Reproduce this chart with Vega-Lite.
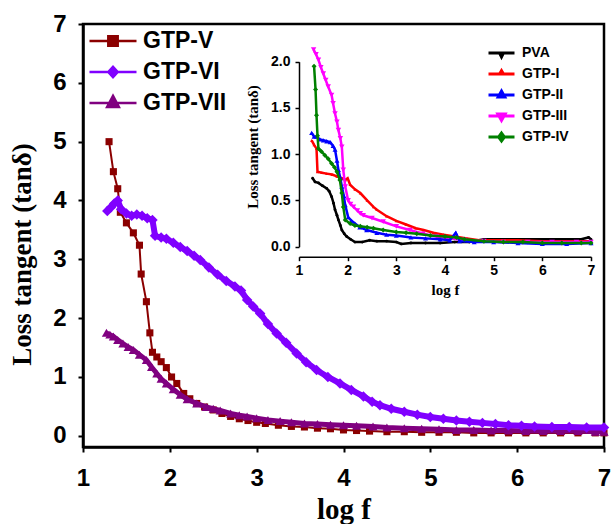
{
"$schema":"https://vega.github.io/schema/vega-lite/v6.json",
"width":521,"height":423,
"autosize":{"type":"none"},
"padding":{"left":83,"top":24,"right":12,"bottom":77},
"background":"white",
"config":{"view":{"stroke":"black","strokeWidth":2.5},"axis":{"grid":false,"domainColor":"black","tickColor":"black","labelColor":"black","titleColor":"black"},"legend":{"padding":0}},
"datasets":{
"v5":[{"x":1.30,"y":5.00},{"x":1.35,"y":4.49},{"x":1.40,"y":4.20},{"x":1.43,"y":3.80},{"x":1.50,"y":3.62},{"x":1.58,"y":3.45},{"x":1.65,"y":3.24},{"x":1.67,"y":2.75},{"x":1.73,"y":2.28},{"x":1.77,"y":1.75},{"x":1.80,"y":1.42},{"x":1.85,"y":1.34},{"x":1.90,"y":1.26},{"x":1.96,"y":1.16},{"x":2.02,"y":1.00},{"x":2.08,"y":0.89},{"x":2.16,"y":0.72},{"x":2.23,"y":0.63},{"x":2.31,"y":0.55},{"x":2.40,"y":0.49},{"x":2.50,"y":0.44},{"x":2.60,"y":0.38},{"x":2.70,"y":0.33},{"x":2.80,"y":0.29},{"x":2.90,"y":0.26},{"x":3.00,"y":0.23},{"x":3.10,"y":0.21},{"x":3.25,"y":0.18},{"x":3.40,"y":0.16},{"x":3.55,"y":0.15},{"x":3.70,"y":0.13},{"x":3.85,"y":0.12},{"x":4.00,"y":0.10},{"x":4.15,"y":0.09},{"x":4.30,"y":0.08},{"x":4.50,"y":0.07},{"x":4.70,"y":0.07},{"x":4.90,"y":0.06},{"x":5.10,"y":0.06},{"x":5.30,"y":0.06},{"x":5.50,"y":0.05},{"x":5.70,"y":0.05},{"x":5.90,"y":0.05},{"x":6.10,"y":0.05},{"x":6.30,"y":0.05},{"x":6.50,"y":0.05},{"x":6.70,"y":0.05},{"x":6.90,"y":0.05},{"x":7.00,"y":0.05}],
"v6":[{"x":1.28,"y":3.82},{"x":1.32,"y":3.88},{"x":1.36,"y":3.95},{"x":1.40,"y":4.00},{"x":1.44,"y":3.85},{"x":1.50,"y":3.78},{"x":1.56,"y":3.74},{"x":1.62,"y":3.76},{"x":1.68,"y":3.74},{"x":1.74,"y":3.70},{"x":1.80,"y":3.67},{"x":1.83,"y":3.40},{"x":1.90,"y":3.37},{"x":1.96,"y":3.35},{"x":2.04,"y":3.28},{"x":2.12,"y":3.21},{"x":2.20,"y":3.14},{"x":2.28,"y":3.06},{"x":2.35,"y":2.99},{"x":2.45,"y":2.86},{"x":2.55,"y":2.74},{"x":2.65,"y":2.63},{"x":2.75,"y":2.54},{"x":2.82,"y":2.47},{"x":2.89,"y":2.31},{"x":2.96,"y":2.20},{"x":3.04,"y":2.08},{"x":3.13,"y":1.90},{"x":3.23,"y":1.74},{"x":3.34,"y":1.58},{"x":3.46,"y":1.40},{"x":3.57,"y":1.25},{"x":3.69,"y":1.12},{"x":3.82,"y":1.00},{"x":3.96,"y":0.89},{"x":4.09,"y":0.78},{"x":4.23,"y":0.67},{"x":4.33,"y":0.58},{"x":4.42,"y":0.52},{"x":4.55,"y":0.46},{"x":4.70,"y":0.41},{"x":4.85,"y":0.36},{"x":5.00,"y":0.32},{"x":5.15,"y":0.29},{"x":5.30,"y":0.26},{"x":5.45,"y":0.24},{"x":5.60,"y":0.22},{"x":5.75,"y":0.20},{"x":5.90,"y":0.18},{"x":6.05,"y":0.17},{"x":6.20,"y":0.16},{"x":6.40,"y":0.15},{"x":6.60,"y":0.15},{"x":6.80,"y":0.14},{"x":7.00,"y":0.14}],
"v7":[{"x":1.27,"y":1.75},{"x":1.31,"y":1.72},{"x":1.35,"y":1.69},{"x":1.40,"y":1.63},{"x":1.46,"y":1.57},{"x":1.52,"y":1.51},{"x":1.58,"y":1.46},{"x":1.65,"y":1.38},{"x":1.73,"y":1.29},{"x":1.79,"y":1.17},{"x":1.85,"y":1.06},{"x":1.90,"y":0.97},{"x":1.96,"y":0.89},{"x":2.04,"y":0.79},{"x":2.12,"y":0.70},{"x":2.20,"y":0.62},{"x":2.31,"y":0.55},{"x":2.42,"y":0.49},{"x":2.50,"y":0.46},{"x":2.58,"y":0.43},{"x":2.70,"y":0.38},{"x":2.80,"y":0.35},{"x":2.89,"y":0.33},{"x":3.00,"y":0.30},{"x":3.13,"y":0.27},{"x":3.27,"y":0.25},{"x":3.40,"y":0.23},{"x":3.55,"y":0.21},{"x":3.70,"y":0.20},{"x":3.85,"y":0.19},{"x":4.00,"y":0.18},{"x":4.15,"y":0.17},{"x":4.34,"y":0.16},{"x":4.50,"y":0.14},{"x":4.70,"y":0.13},{"x":4.90,"y":0.12},{"x":5.10,"y":0.11},{"x":5.30,"y":0.10},{"x":5.50,"y":0.10},{"x":5.70,"y":0.09},{"x":5.90,"y":0.09},{"x":6.10,"y":0.08},{"x":6.30,"y":0.08},{"x":6.50,"y":0.08},{"x":6.70,"y":0.08},{"x":6.90,"y":0.07},{"x":7.00,"y":0.07}],
"pva":[{"x":1.28,"y":0.74},{"x":1.33,"y":0.70},{"x":1.40,"y":0.69},{"x":1.48,"y":0.66},{"x":1.57,"y":0.63},{"x":1.62,"y":0.60},{"x":1.67,"y":0.54},{"x":1.71,"y":0.47},{"x":1.74,"y":0.40},{"x":1.78,"y":0.34},{"x":1.81,"y":0.29},{"x":1.85,"y":0.23},{"x":1.88,"y":0.18},{"x":1.93,"y":0.14},{"x":1.98,"y":0.11},{"x":2.06,"y":0.08},{"x":2.15,"y":0.05},{"x":2.30,"y":0.05},{"x":2.45,"y":0.07},{"x":2.60,"y":0.06},{"x":2.80,"y":0.06},{"x":3.00,"y":0.05},{"x":3.10,"y":0.03},{"x":3.30,"y":0.04},{"x":3.60,"y":0.04},{"x":3.90,"y":0.04},{"x":4.20,"y":0.05},{"x":4.50,"y":0.05},{"x":4.80,"y":0.08},{"x":5.20,"y":0.08},{"x":5.60,"y":0.08},{"x":6.00,"y":0.08},{"x":6.40,"y":0.08},{"x":6.80,"y":0.08},{"x":6.95,"y":0.10},{"x":7.00,"y":0.08}],
"g1":[{"x":1.26,"y":1.15},{"x":1.31,"y":1.10},{"x":1.36,"y":1.06},{"x":1.38,"y":0.81},{"x":1.47,"y":0.80},{"x":1.57,"y":0.79},{"x":1.68,"y":0.78},{"x":1.78,"y":0.76},{"x":1.88,"y":0.74},{"x":1.95,"y":0.72},{"x":2.00,"y":0.74},{"x":2.05,"y":0.67},{"x":2.15,"y":0.62},{"x":2.26,"y":0.58},{"x":2.40,"y":0.50},{"x":2.53,"y":0.43},{"x":2.60,"y":0.40},{"x":2.80,"y":0.33},{"x":3.00,"y":0.28},{"x":3.20,"y":0.24},{"x":3.40,"y":0.20},{"x":3.56,"y":0.18},{"x":3.76,"y":0.15},{"x":3.97,"y":0.13},{"x":4.20,"y":0.11},{"x":4.45,"y":0.09},{"x":4.70,"y":0.07},{"x":5.00,"y":0.07},{"x":5.50,"y":0.07},{"x":6.00,"y":0.06},{"x":6.50,"y":0.06},{"x":7.00,"y":0.06}],
"g2":[{"x":1.26,"y":1.23},{"x":1.31,"y":1.19},{"x":1.36,"y":1.19},{"x":1.43,"y":1.16},{"x":1.50,"y":1.15},{"x":1.57,"y":1.14},{"x":1.64,"y":1.13},{"x":1.70,"y":1.09},{"x":1.74,"y":1.05},{"x":1.78,"y":0.93},{"x":1.81,"y":0.83},{"x":1.85,"y":0.74},{"x":1.88,"y":0.65},{"x":1.92,"y":0.55},{"x":1.95,"y":0.45},{"x":2.01,"y":0.32},{"x":2.08,"y":0.28},{"x":2.15,"y":0.25},{"x":2.25,"y":0.21},{"x":2.39,"y":0.18},{"x":2.60,"y":0.15},{"x":2.80,"y":0.13},{"x":3.00,"y":0.12},{"x":3.30,"y":0.10},{"x":3.60,"y":0.09},{"x":3.90,"y":0.08},{"x":4.10,"y":0.07},{"x":4.22,"y":0.15},{"x":4.30,"y":0.06},{"x":4.60,"y":0.05},{"x":5.00,"y":0.05},{"x":5.50,"y":0.04},{"x":6.00,"y":0.03},{"x":6.50,"y":0.03},{"x":7.00,"y":0.04}],
"g3":[{"x":1.30,"y":2.13},{"x":1.35,"y":2.08},{"x":1.40,"y":2.02},{"x":1.45,"y":1.94},{"x":1.50,"y":1.87},{"x":1.55,"y":1.80},{"x":1.60,"y":1.73},{"x":1.67,"y":1.64},{"x":1.70,"y":1.55},{"x":1.74,"y":1.44},{"x":1.78,"y":1.35},{"x":1.81,"y":1.26},{"x":1.85,"y":1.17},{"x":1.88,"y":1.08},{"x":1.91,"y":0.83},{"x":1.95,"y":0.65},{"x":2.01,"y":0.50},{"x":2.06,"y":0.46},{"x":2.12,"y":0.43},{"x":2.20,"y":0.39},{"x":2.26,"y":0.36},{"x":2.32,"y":0.34},{"x":2.50,"y":0.31},{"x":2.73,"y":0.27},{"x":3.00,"y":0.22},{"x":3.28,"y":0.18},{"x":3.55,"y":0.14},{"x":3.83,"y":0.11},{"x":4.10,"y":0.09},{"x":4.40,"y":0.07},{"x":4.80,"y":0.06},{"x":5.20,"y":0.05},{"x":5.70,"y":0.05},{"x":6.20,"y":0.05},{"x":6.70,"y":0.05},{"x":7.00,"y":0.05}],
"g4":[{"x":1.31,"y":1.95},{"x":1.34,"y":1.70},{"x":1.36,"y":1.42},{"x":1.38,"y":1.20},{"x":1.40,"y":1.06},{"x":1.46,"y":1.03},{"x":1.53,"y":0.99},{"x":1.60,"y":0.95},{"x":1.67,"y":0.90},{"x":1.73,"y":0.86},{"x":1.78,"y":0.81},{"x":1.84,"y":0.72},{"x":1.88,"y":0.58},{"x":1.91,"y":0.43},{"x":1.95,"y":0.29},{"x":2.05,"y":0.25},{"x":2.15,"y":0.23},{"x":2.26,"y":0.22},{"x":2.40,"y":0.21},{"x":2.53,"y":0.20},{"x":2.73,"y":0.18},{"x":3.00,"y":0.16},{"x":3.20,"y":0.15},{"x":3.42,"y":0.14},{"x":3.70,"y":0.12},{"x":4.00,"y":0.11},{"x":4.24,"y":0.10},{"x":4.40,"y":0.08},{"x":4.80,"y":0.06},{"x":5.20,"y":0.05},{"x":5.60,"y":0.05},{"x":6.00,"y":0.04},{"x":6.40,"y":0.04},{"x":6.80,"y":0.04},{"x":7.00,"y":0.04}]
},
"layer":[
{
"encoding":{
"x":{"field":"x","type":"quantitative","scale":{"domain":[1,7],"nice":false,"zero":false},
"axis":{"values":[1,2,3,4,5,6,7],"title":"log f","labelFont":"Liberation Sans","labelFontWeight":"bold","labelFontSize":24,"labelPadding":14,"labelFlush":false,"tickSize":5,"tickWidth":2,"domainWidth":2.5,"titleFont":"Liberation Serif","titleFontSize":29,"titleFontWeight":"bold","titleBaseline":"alphabetic","titleY":71}},
"y":{"field":"y","type":"quantitative","scale":{"domain":[-0.19,7],"nice":false,"zero":false},
"axis":{"values":[0,1,2,3,4,5,6,7],"title":"Loss tangent (tanδ)","labelFont":"Liberation Sans","labelFontWeight":"bold","labelFontSize":24,"labelPadding":12,"labelFlush":false,"tickSize":5,"tickWidth":2,"domainWidth":2.5,"titleFont":"Liberation Serif","titleFontSize":27,"titleFontWeight":"bold","titleBaseline":"alphabetic","titleX":-53,"titleY":230}}
},
"layer":[
{"data":{"name":"v5"},"mark":{"type":"line","strokeWidth":2,"point":{"shape":"square","size":50,"filled":true}},
"encoding":{"color":{"datum":"GTP-V","type":"nominal","scale":{"domain":["GTP-V","GTP-VI","GTP-VII"],"range":["#8b0000","#8000ff","#800080"]},
"legend":{"title":null,"orient":"none","legendX":5,"legendY":5,"symbolSize":2209,"clipHeight":24,"rowPadding":7,"labelOffset":5,"labelFont":"Liberation Sans","labelFontWeight":"bold","labelFontSize":23,"labelColor":"black",
"encode":{"symbols":{"update":{"shape":{"signal":"datum.value==='GTP-V'?'M-1,0H1M-0.2,-0.2H0.2V0.2H-0.2Z':datum.value==='GTP-VI'?'M-1,0H1M0,-0.22L0.2,0L0,0.22L-0.2,0Z':'M-1,0H1M0,-0.3L0.25,0.17H-0.25Z'"},
"fill":{"signal":"datum.value==='GTP-V'?'#8b0000':datum.value==='GTP-VI'?'#8000ff':'#800080'"},
"stroke":{"signal":"datum.value==='GTP-V'?'#8b0000':datum.value==='GTP-VI'?'#8000ff':'#800080'"},
"strokeWidth":{"value":2.5},"opacity":{"value":1}}}}}}}},
{"data":{"name":"v7"},"mark":{"type":"line","strokeWidth":5,"point":{"shape":"triangle-up","size":85,"filled":true}},
"encoding":{"color":{"datum":"GTP-VII","type":"nominal"}}},
{"data":{"name":"v6"},"mark":{"type":"line","strokeWidth":6,"point":{"shape":"diamond","size":110,"filled":true}},
"encoding":{"color":{"datum":"GTP-VI","type":"nominal"}}}
]
},
{
"encoding":{
"x":{"field":"x","type":"quantitative","scale":{"domain":[1,7],"range":[216,508],"nice":false,"zero":false},
"axis":{"orient":"bottom","offset":-190.3,"values":[1,2,3,4,5,6,7],"title":"log f","labelFont":"Liberation Sans","labelFontWeight":"bold","labelFontSize":14,"labelPadding":3,"labelFlush":false,"tickSize":4,"tickWidth":1.5,"domainWidth":1.5,"titleFont":"Liberation Serif","titleFontSize":15,"titleFontWeight":"bold","titleBaseline":"alphabetic","titleX":362,"titleY":38}},
"y":{"field":"y","type":"quantitative","scale":{"domain":[0,2],"range":[222.7,37.7],"nice":false,"zero":false},
"axis":{"orient":"left","offset":-216,"values":[0,0.5,1,1.5,2],"format":".1f","title":"Loss tangent (tanδ)","labelFont":"Liberation Sans","labelFontWeight":"bold","labelFontSize":14,"labelPadding":5,"labelFlush":false,"tickSize":4,"tickWidth":1.5,"domainWidth":1.5,"titleFont":"Liberation Serif","titleFontSize":15,"titleFontWeight":"bold","titleBaseline":"alphabetic","titleX":-42,"titleY":122.5}}
},
"layer":[
{"data":{"values":[{}]},"mark":{"type":"rect","fill":"white","stroke":"black","strokeWidth":1.5},
"encoding":{"x":{"datum":1},"x2":{"datum":7.04},"y":{"datum":-0.108},"y2":{"datum":2.31}}},
{"data":{"name":"pva"},"mark":{"type":"line","strokeWidth":2.5,"point":{"shape":"circle","size":8,"filled":true}},
"encoding":{"color":{"datum":"PVA","type":"nominal","scale":{"domain":["PVA","GTP-I","GTP-II","GTP-III","GTP-IV"],"range":["#000000","#ff0000","#0000ff","#ff00ff","#008000"]},
"legend":{"title":null,"orient":"none","legendX":404,"legendY":21,"symbolSize":676,"clipHeight":16,"rowPadding":5,"labelOffset":6,"labelFont":"Liberation Sans","labelFontWeight":"bold","labelFontSize":14,"labelColor":"black",
"encode":{"symbols":{"update":{"shape":{"signal":"datum.value==='PVA'?'M-1,0H1M-0.15,0L0,0.3L0.15,0Z':datum.value==='GTP-I'?'M-1,0H1M-0.15,0L0,-0.25L0.15,0Z':datum.value==='GTP-II'?'M-1,0H1M-0.25,0.15L0,-0.3L0.25,0.15Z':datum.value==='GTP-III'?'M-1,0H1M-0.28,-0.15L0.28,-0.15L0,0.35Z':'M-1,0H1M0,-0.3L0.22,0L0,0.3L-0.22,0Z'"},
"fill":{"signal":"datum.value==='PVA'?'#000000':datum.value==='GTP-I'?'#ff0000':datum.value==='GTP-II'?'#0000ff':datum.value==='GTP-III'?'#ff00ff':'#008000'"},
"stroke":{"signal":"datum.value==='PVA'?'#000000':datum.value==='GTP-I'?'#ff0000':datum.value==='GTP-II'?'#0000ff':datum.value==='GTP-III'?'#ff00ff':'#008000'"},
"strokeWidth":{"value":3},"opacity":{"value":1}}}}}}}},
{"data":{"name":"g1"},"mark":{"type":"line","strokeWidth":2.5,"point":{"shape":"triangle-up","size":10,"filled":true}},
"encoding":{"color":{"datum":"GTP-I","type":"nominal"}}},
{"data":{"name":"g3"},"mark":{"type":"line","strokeWidth":2.5,"point":{"shape":"triangle-down","size":30,"filled":true}},
"encoding":{"color":{"datum":"GTP-III","type":"nominal"}}},
{"data":{"name":"g2"},"mark":{"type":"line","strokeWidth":2.5,"point":{"shape":"triangle-up","size":25,"filled":true}},
"encoding":{"color":{"datum":"GTP-II","type":"nominal"}}},
{"data":{"name":"g4"},"mark":{"type":"line","strokeWidth":2.5,"point":{"shape":"diamond","size":25,"filled":true}},
"encoding":{"color":{"datum":"GTP-IV","type":"nominal"}}}
]
}
],
"resolve":{"scale":{"x":"independent","y":"independent","color":"independent"}}
}
